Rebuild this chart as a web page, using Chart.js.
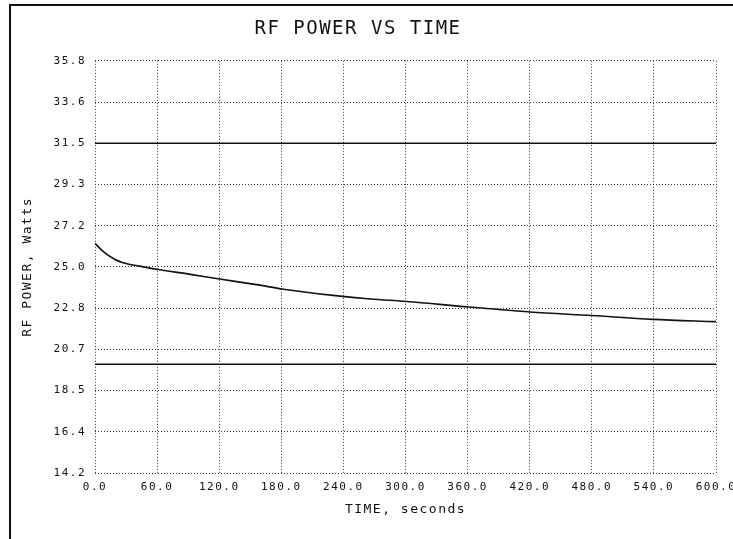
<!DOCTYPE html>
<html>
<head>
<meta charset="utf-8">
<script src="https://cdn.jsdelivr.net/npm/chart.js@4"></script>
<style>
  body { margin: 0; background: #fff; }
  #wrap { position: relative; width: 733px; height: 539px; }
  #frame { position: absolute; left: 9px; top: 4px; width: 730px; height: 540px;
           border-top: 2px solid #111; border-left: 2px solid #111; pointer-events: none; }
</style>
</head>
<body>
<div id="wrap">
  <canvas id="cvx" width="733" height="539"></canvas>
  <div id="frame"></div>
</div>
<script>
// time (s) and measured RF power (W)
const tiempos = [0, 8, 19, 27, 43, 61, 92, 122, 156, 182, 230, 266, 301, 361, 420, 480, 539, 600];
const potencia = [26.24, 25.8, 25.4, 25.22, 25.04, 24.86, 24.61, 24.35, 24.07, 23.83, 23.51, 23.32, 23.19, 22.9, 22.64, 22.45, 22.25, 22.13];

// upper / lower limit lines
const limiteX = [0, 600];
const limiteSup = [31.48, 31.48];
const limiteInf = [19.9, 19.9];

const ticksX = [0, 60, 120, 180, 240, 300, 360, 420, 480, 540, 600];
const ticksY = [14.2, 16.36, 18.52, 20.68, 22.84, 25.0, 27.16, 29.32, 31.48, 33.64, 35.8];

const fuente = "'DejaVu Sans Mono', 'Liberation Mono', monospace";

function puntos(xs, ys) {
  return xs.map((x, i) => ({x: x, y: ys[i]}));
}

const espaciado = {
  id: 'espaciado',
  beforeLayout(chart) { chart.ctx.letterSpacing = '1.5px'; },
  beforeDraw(chart) { chart.ctx.letterSpacing = '1.5px'; }
};

const linea = (data) => ({
  data: data,
  borderColor: '#111',
  borderWidth: 1.6,
  pointRadius: 0,
  fill: false
});

const config = {
  type: 'line',
  data: {
    datasets: [
      Object.assign(linea(puntos(tiempos, potencia)), {cubicInterpolationMode: 'monotone'}),
      linea(puntos(limiteX, limiteSup)),
      linea(puntos(limiteX, limiteInf))
    ]
  },
  plugins: [espaciado],
  options: {
    responsive: false,
    animation: false,
    layout: { padding: { left: 0, right: 17, top: 0, bottom: 0 } },
    plugins: {
      legend: { display: false },
      tooltip: { enabled: false },
      title: {
        display: true,
        text: 'RF POWER VS TIME',
        color: '#111',
        font: { family: fuente, size: 19, weight: 'normal' },
        padding: { top: 18, bottom: 20 }
      }
    },
    scales: {
      x: {
        type: 'linear',
        min: 0,
        max: 600,
        afterBuildTicks(s) { s.ticks = ticksX.map(v => ({value: v})); },
        afterFit(s) { s.height = 66; s.paddingLeft = 0; s.paddingRight = 0; },
        ticks: {
          color: '#111',
          padding: 8,
          maxRotation: 0,
          autoSkip: false,
          font: { family: fuente, size: 11 },
          callback: v => v.toFixed(1)
        },
        grid: { color: '#333', lineWidth: 1, drawTicks: false },
        border: { display: false, dash: [1, 2] },
        title: {
          display: true,
          text: 'TIME, seconds',
          color: '#111',
          font: { family: fuente, size: 13 },
          padding: { top: 0, bottom: 22 }
        }
      },
      y: {
        min: 14.2,
        max: 35.8,
        afterBuildTicks(s) { s.ticks = ticksY.map(v => ({value: v})); },
        afterFit(s) { s.width = 95; s.paddingTop = 0; s.paddingBottom = 0; },
        ticks: {
          color: '#111',
          padding: 9,
          autoSkip: false,
          font: { family: fuente, size: 11 },
          callback: v => v.toFixed(1)
        },
        grid: { color: '#333', lineWidth: 1, drawTicks: false },
        border: { display: false, dash: [1, 2] },
        title: {
          display: true,
          text: 'RF POWER, Watts',
          color: '#111',
          font: { family: fuente, size: 13 },
          padding: { top: 20, bottom: 0 }
        }
      }
    }
  }
};

const myChart = new Chart(document.getElementById('cvx'), config);
</script>
</body>
</html>
